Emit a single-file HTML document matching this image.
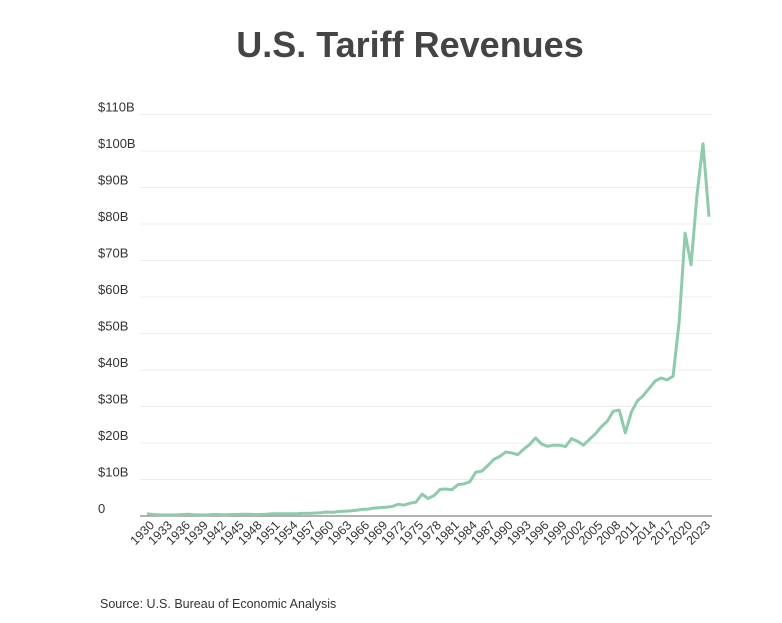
<!DOCTYPE html>
<html><head><meta charset="utf-8"><style>
body{margin:0;background:#fff;}
svg text{font-family:"Liberation Sans",sans-serif;}
</style></head><body>
<svg width="782" height="618">
<text x="410" y="57" text-anchor="middle" font-size="36" font-weight="bold" fill="#444">U.S. Tariff Revenues</text>
<g id="grid"></g><g id="xl"></g>
<path id="line" fill="none" stroke="#8fcbab" stroke-width="3" stroke-linejoin="round"/>
<text x="100" y="608" font-size="12.5" fill="#333">Source: U.S. Bureau of Economic Analysis</text>
</svg>
<script>
const yearStart=1930;
const values=[0.6,0.4,0.3,0.3,0.3,0.3,0.4,0.5,0.3,0.3,0.3,0.4,0.4,0.3,0.4,0.4,0.5,0.5,0.4,0.4,0.5,0.6,0.6,0.6,0.6,0.6,0.7,0.7,0.8,0.9,1.1,1.0,1.2,1.3,1.4,1.6,1.8,1.9,2.2,2.3,2.4,2.6,3.2,3.0,3.5,3.8,6.0,4.8,5.6,7.3,7.4,7.2,8.6,8.8,9.4,12.0,12.3,13.8,15.5,16.3,17.5,17.3,16.8,18.3,19.6,21.4,19.7,19.1,19.4,19.4,19.0,21.2,20.5,19.4,21,22.5,24.5,26,28.7,29,22.8,28.4,31.5,33,35,37,37.8,37.3,38.3,53,77.5,68.8,88,102,82];
const yTicks=[0,10,20,30,40,50,60,70,80,90,100,110];
const x0=147,dx=(709-147)/(values.length-1);
const X=i=>x0+i*dx, Y=v=>516-v*3.65;
const ns="http://www.w3.org/2000/svg";
const g=document.getElementById('grid'),xl=document.getElementById('xl');
yTicks.forEach(t=>{
 const l=document.createElementNS(ns,'line');
 
 
 l.setAttribute('x1',140);l.setAttribute('x2',712);l.setAttribute('y1',Y(t));l.setAttribute('y2',Y(t));
 l.setAttribute('stroke',t===0?'#999':'#ececec');l.setAttribute('stroke-width',t===0?1.5:1);
 g.appendChild(l);
 const tx=document.createElementNS(ns,'text');
 
 
 tx.setAttribute('x',98);tx.setAttribute('y',Y(t)-3);tx.setAttribute('font-size','13');tx.setAttribute('fill','#333');
 tx.textContent=t===0?'0':'$'+t+'B';g.appendChild(tx);
});
for(let i=0;i<values.length;i+=3){
 const tx=document.createElementNS(ns,'text');
 
 
 const x=X(i)+8,y=526;
 tx.setAttribute('x',x);tx.setAttribute('y',y);tx.setAttribute('font-size','12.5');tx.setAttribute('fill','#333');
 tx.setAttribute('text-anchor','end');tx.setAttribute('transform',`rotate(-45 ${x} ${y})`);
 tx.textContent=yearStart+i;xl.appendChild(tx);
}
document.getElementById('line').setAttribute('d',values.map((v,i)=>(i?'L':'M')+X(i).toFixed(1)+' '+Y(v).toFixed(1)).join(''));
</script>
</body></html>
